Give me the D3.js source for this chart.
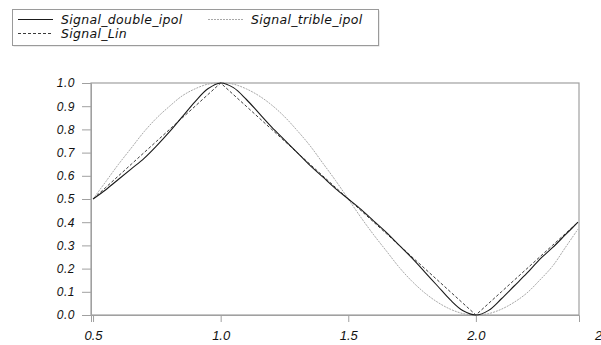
<!DOCTYPE html>
<html>
<head>
<meta charset="utf-8">
<script src="https://cdn.jsdelivr.net/npm/d3@7/dist/d3.min.js"></script>
<style>
  body { margin: 0; background: #fff; }
  svg { display: block; font-family: "DejaVu Sans", "Liberation Sans", Arial, sans-serif; }
  .tick text { font-style: italic; fill: #111; }
  .yax .tick text { font-size: 12px; letter-spacing: 0.5px; }
  .xax .tick text { font-size: 13px; }
  .leg { font-style: italic; font-size: 12.5px; letter-spacing: 0.3px; fill: #111; }
</style>
</head>
<body>
<div id="chart"></div>
<script>
(function signalchart() {

  // x positions where the curves were read
  var xs = [0.5, 0.55, 0.6, 0.65, 0.7, 0.75, 0.8, 0.85, 0.9, 0.95, 1.0,
    1.05, 1.1, 1.15, 1.2, 1.25, 1.3, 1.35, 1.4, 1.45, 1.5,
    1.55, 1.6, 1.65, 1.7, 1.75, 1.8, 1.85, 1.9, 1.95, 2.0,
    2.05, 2.1, 2.15, 2.2, 2.25, 2.3, 2.35, 2.4];

  var signalDouble = [0.5, 0.54, 0.585, 0.63, 0.675, 0.73, 0.79, 0.855, 0.92, 0.975, 1.0,
    0.98, 0.93, 0.87, 0.81, 0.755, 0.70, 0.645, 0.595, 0.545, 0.5,
    0.455, 0.405, 0.355, 0.30, 0.245, 0.185, 0.125, 0.065, 0.018, 0.0,
    0.02, 0.07, 0.125, 0.18, 0.24, 0.29, 0.345, 0.40];

  var signalTrible = [0.5, 0.575, 0.65, 0.72, 0.79, 0.85, 0.9, 0.945, 0.975, 0.995, 1.0,
    0.995, 0.975, 0.945, 0.905, 0.855, 0.795, 0.73, 0.655, 0.58, 0.5,
    0.42, 0.345, 0.275, 0.205, 0.145, 0.095, 0.055, 0.025, 0.006, 0.0,
    0.006, 0.025, 0.055, 0.095, 0.15, 0.21, 0.29, 0.37];

  var signalLin = [0.5, 0.55, 0.6, 0.65, 0.7, 0.75, 0.8, 0.85, 0.9, 0.95, 1.0,
    0.95, 0.9, 0.85, 0.8, 0.75, 0.7, 0.65, 0.6, 0.55, 0.5,
    0.45, 0.4, 0.35, 0.3, 0.25, 0.2, 0.15, 0.1, 0.05, 0.0,
    0.05, 0.1, 0.15, 0.2, 0.25, 0.3, 0.35, 0.4];

  var xTicks = [0.5, 1.0, 1.5, 2.0, 2.5];
  var yTicks = [0, 0.1, 0.2, 0.3, 0.4, 0.5, 0.6, 0.7, 0.8, 0.9, 1.0];

  var seriesNames = ["Signal_double_ipol", "Signal_trible_ipol", "Signal_Lin"];

  var W = 601, H = 345;
  var left = 91, right = 579, top = 83, bottom = 315;

  var x = d3.scaleLinear().domain([0.492, 2.404]).range([left, right]);
  var y = d3.scaleLinear().domain([0, 1]).range([bottom, top]);

  var svg = d3.select("#chart").append("svg")
    .attr("width", W)
    .attr("height", H);

  // series styles
  var styles = [
    { data: signalDouble, stroke: "#1a1a1a", dash: null, width: 1.1, curve: d3.curveCatmullRom },
    { data: signalTrible, stroke: "#a8a8a8", dash: "2,1", width: 1, curve: d3.curveCatmullRom },
    { data: signalLin, stroke: "#3a3a3a", dash: "3,2", width: 1, curve: d3.curveLinear }
  ];

  // legend
  var leg = svg.append("g");
  leg.append("rect")
    .attr("x", 13.5).attr("y", 10.5)
    .attr("width", 366).attr("height", 36)
    .attr("fill", "#d8d8d8");
  leg.append("rect")
    .attr("x", 12.5).attr("y", 9.5)
    .attr("width", 366).attr("height", 36)
    .attr("fill", "#fff")
    .attr("stroke", "#9a9a9a");

  var legPos = [[18, 19], [208, 19], [18, 33]];
  styles.forEach(function(s, i) {
    var p = legPos[i];
    leg.append("line")
      .attr("x1", p[0]).attr("x2", p[0] + 35)
      .attr("y1", p[1] + 0.5).attr("y2", p[1] + 0.5)
      .attr("stroke", s.stroke)
      .attr("stroke-width", 1)
      .attr("stroke-dasharray", s.dash);
    leg.append("text")
      .attr("class", "leg")
      .attr("x", p[0] + 43)
      .attr("y", p[1] + 4.5)
      .text(seriesNames[i]);
  });

  // frame
  svg.append("rect")
    .attr("x", left).attr("y", top)
    .attr("width", right - left).attr("height", bottom - top)
    .attr("fill", "none")
    .attr("stroke", "#a0a0a0")
    .attr("stroke-width", 1.2);

  var yAxis = svg.append("g")
    .attr("class", "yax")
    .attr("transform", "translate(" + left + ",0)")
    .call(d3.axisLeft(y).tickValues(yTicks).tickFormat(d3.format(".1f")).tickSize(9).tickPadding(7));

  var xAxis = svg.append("g")
    .attr("class", "xax")
    .attr("transform", "translate(0," + bottom + ")")
    .call(d3.axisBottom(x).tickValues(xTicks).tickFormat(d3.format(".1f")).tickSize(7).tickPadding(9));

  [yAxis, xAxis].forEach(function(a) {
    a.select(".domain").attr("stroke", "#a0a0a0");
    a.selectAll(".tick line").attr("stroke", "#a0a0a0");
  });

  // curves
  svg.append("clipPath").attr("id", "plotclip")
    .append("rect")
    .attr("x", left).attr("y", top - 2)
    .attr("width", right - left).attr("height", bottom - top + 4);

  var plot = svg.append("g").attr("clip-path", "url(#plotclip)");

  styles.slice().reverse().forEach(function(s) {
    var line = d3.line()
      .x(function(d, i) { return x(xs[i]); })
      .y(function(d) { return y(d); })
      .curve(s.curve);
    plot.append("path")
      .datum(s.data)
      .attr("fill", "none")
      .attr("stroke", s.stroke)
      .attr("stroke-width", s.width)
      .attr("stroke-dasharray", s.dash)
      .attr("d", line);
  });

})();
</script>
</body>
</html>
